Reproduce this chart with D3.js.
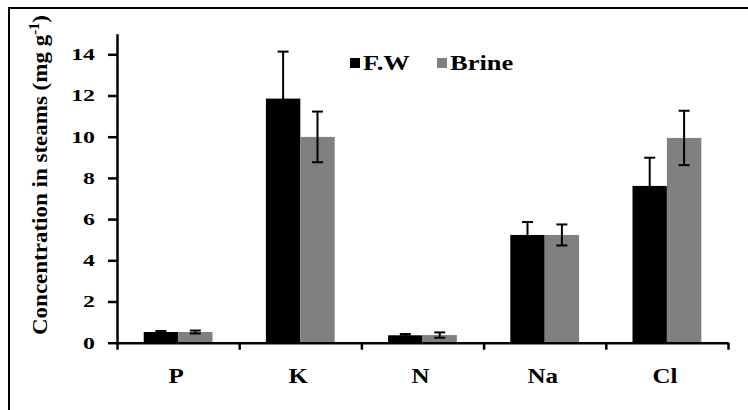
<!DOCTYPE html>
<html>
<head>
<meta charset="utf-8">
<script src="https://cdn.jsdelivr.net/npm/d3@7"></script>
<style>
body { margin: 0; background: #fff; }
text { font-family: "Liberation Serif", "Times New Roman", serif; font-weight: bold; }
</style>
</head>
<body>
<svg id="chart"></svg>
<script>
// element concentrations in stems, fresh water vs brine
var elements = ["P", "K", "N", "Na", "Cl"];
var seriesNames = ["F.W", "Brine"];
var fwValues = [0.52, 11.85, 0.36, 5.23, 7.61];
var fwErrors = [0.05, 2.28, 0.06, 0.63, 1.37];
var brineValues = [0.52, 9.99, 0.37, 5.23, 9.94];
var brineErrors = [0.07, 1.23, 0.13, 0.51, 1.32];
var yTicks = [0, 2, 4, 6, 8, 10, 12, 14];
var colors = ["#000000", "#808080"];

var svgWidth = 748;
var svgHeight = 410;

var svg = d3.select("#chart")
    .attr("width", svgWidth)
    .attr("height", svgHeight);

// frame round the figure (runs off the right and bottom edge)
svg.append("rect")
    .attr("x", 9)
    .attr("y", 8)
    .attr("width", 760)
    .attr("height", 420)
    .attr("fill", "none")
    .attr("stroke", "#000")
    .attr("stroke-width", 2);

var x0 = d3.scaleBand()
    .domain(elements)
    .range([117, 728])
    .paddingInner(0.437)
    .paddingOuter(0.2185);

var x1 = d3.scaleBand()
    .domain(seriesNames)
    .range([0, x0.bandwidth()]);

var y = d3.scaleLinear()
    .domain([0, 15])
    .range([342.7, 33.7]);

// boundaries between categories for the x tick marks
var xEdge = d3.scaleLinear()
    .domain([0, elements.length])
    .range([117, 728]);

// widen text to match the stretched look of the original
function stretch(sel, k) {
    sel.each(function() {
        var w = this.getComputedTextLength();
        d3.select(this)
            .attr("textLength", w * k)
            .attr("lengthAdjust", "spacingAndGlyphs");
    });
}

var data = elements.map(function(el, i) {
    return {
        name: el,
        values: [
            { series: "F.W", value: fwValues[i], err: fwErrors[i] },
            { series: "Brine", value: brineValues[i], err: brineErrors[i] }
        ]
    };
});

var groups = svg.append("g")
    .selectAll("g")
    .data(data)
    .enter()
    .append("g")
    .attr("transform", function(d) { return "translate(" + x0(d.name) + ",0)"; });

groups.selectAll("rect")
    .data(function(d) { return d.values; })
    .enter()
    .append("rect")
    .attr("x", function(d) { return x1(d.series); })
    .attr("y", function(d) { return y(d.value); })
    .attr("width", x1.bandwidth())
    .attr("height", function(d) { return y(0) - y(d.value); })
    .attr("fill", function(d, i) { return colors[i]; });

// error bars
var errs = groups.selectAll("g.err")
    .data(function(d) { return d.values; })
    .enter()
    .append("g")
    .attr("class", "err")
    .attr("stroke", "#000")
    .attr("stroke-width", 2);

errs.append("line")
    .attr("x1", function(d) { return x1(d.series) + x1.bandwidth() / 2; })
    .attr("x2", function(d) { return x1(d.series) + x1.bandwidth() / 2; })
    .attr("y1", function(d) { return y(d.value + d.err); })
    .attr("y2", function(d) { return y(d.value - d.err); });

errs.selectAll("line.cap")
    .data(function(d) { return [d.value + d.err, d.value - d.err]; })
    .enter()
    .append("line")
    .attr("class", "cap")
    .attr("x1", function() { var d = d3.select(this.parentNode).datum(); return x1(d.series) + x1.bandwidth() / 2 - 5.5; })
    .attr("x2", function() { var d = d3.select(this.parentNode).datum(); return x1(d.series) + x1.bandwidth() / 2 + 5.5; })
    .attr("y1", function(v) { return y(v); })
    .attr("y2", function(v) { return y(v); });

// y axis
var yAxis = svg.append("g")
    .attr("transform", "translate(117,0)")
    .call(d3.axisLeft(y).tickValues(yTicks).tickSize(9).tickSizeOuter(0).tickPadding(13));

yAxis.select(".domain").attr("stroke-width", 2.5);
yAxis.selectAll(".tick line").attr("stroke-width", 2.5);
yAxis.selectAll("text")
    .style("font-family", "'Liberation Serif', serif")
    .style("font-size", "17px")
    .style("font-weight", "bold")
    .attr("fill", "#000")
    .call(stretch, 1.4);

// x axis: ticks sit between the categories
var xAxis = svg.append("g")
    .attr("transform", "translate(0," + y(0) + ")")
    .call(d3.axisBottom(xEdge).tickValues(d3.range(elements.length + 1)).tickFormat("").tickSize(7).tickSizeOuter(0));

xAxis.select(".domain").attr("stroke-width", 2.5);
xAxis.selectAll(".tick line").attr("stroke-width", 2.5);

svg.append("g")
    .selectAll("text")
    .data(elements)
    .enter()
    .append("text")
    .attr("x", function(d) { return x0(d) + x0.bandwidth() / 2 - 2; })
    .attr("y", 383)
    .attr("text-anchor", "middle")
    .style("font-size", "21.5px")
    .text(function(d) { return d; })
    .call(stretch, 1.16);

// y axis title
var title = svg.append("text")
    .attr("transform", "translate(47,175) rotate(-90)")
    .attr("text-anchor", "middle")
    .style("font-size", "22px");

title.append("tspan").text("Concentration in steams  (mg g");
title.append("tspan").attr("dy", -8).style("font-size", "14px").text("-1");
title.append("tspan").attr("dy", 8).text(")");
title.attr("textLength", 320).attr("lengthAdjust", "spacingAndGlyphs");

// legend
var legendX = [350, 437];
var legend = svg.append("g")
    .selectAll("g")
    .data(seriesNames)
    .enter()
    .append("g")
    .attr("transform", function(d, i) { return "translate(" + legendX[i] + ",0)"; });

legend.append("rect")
    .attr("x", 0)
    .attr("y", 58)
    .attr("width", 10)
    .attr("height", 10)
    .attr("fill", function(d, i) { return colors[i]; });

legend.append("text")
    .attr("x", 13)
    .attr("y", 70)
    .style("font-size", "21px")
    .text(function(d) { return d; })
    .call(stretch, 1.26);
</script>
</body>
</html>
